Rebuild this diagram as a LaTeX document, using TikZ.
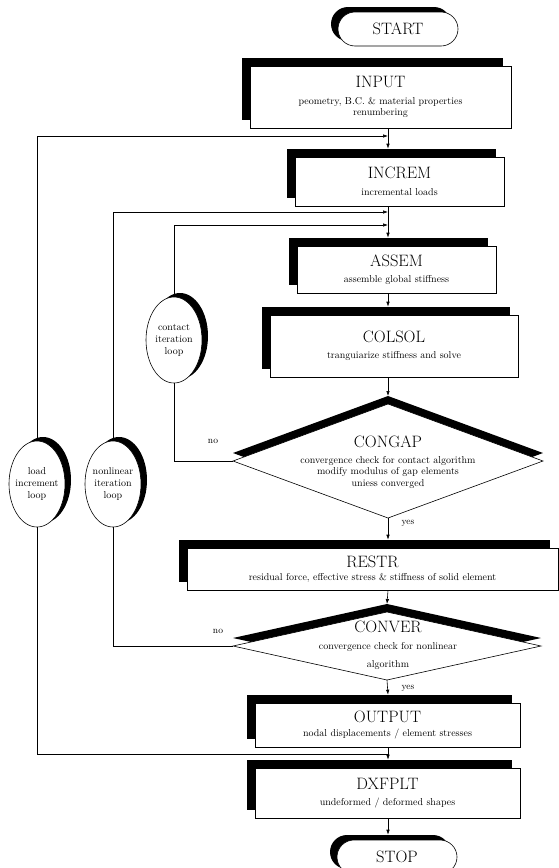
\documentclass[tikz,border=0pt]{standalone}
\usepackage{amsmath}
\usepackage{tikz}
\usetikzlibrary{shapes.geometric,shadows,arrows.meta}

\newcommand{\boxtitle}{\fontsize{16.5}{18}\selectfont}
\newcommand{\boxtext}{\fontsize{10}{11.5}\selectfont}

\tikzset{
	procbox/.style={draw, fill=white, line width=0.6pt, inner sep=0pt, align=center, font=\boxtext,
		drop shadow={shadow xshift=-8pt, shadow yshift=8pt, fill=black, opacity=1}},
	terminal/.style={draw, fill=white, line width=0.6pt, rounded corners=17pt, minimum width=120pt,
		minimum height=34pt, font=\boxtitle,
		drop shadow={shadow xshift=-7pt, shadow yshift=5pt, fill=black, opacity=1}},
	decision/.style={diamond, draw, fill=white, line width=0.6pt, inner sep=0pt, outer sep=0pt,
		drop shadow={shadow xshift=0pt, shadow yshift=8pt, fill=black, opacity=1}},
	loopnode/.style={ellipse, draw, fill=white, line width=0.6pt, inner sep=-5pt, minimum width=56pt,
		minimum height=86pt, align=center, font=\fontsize{10}{12}\selectfont,
		drop shadow={shadow xshift=6pt, shadow yshift=4pt, fill=black, opacity=1}},
	flow/.style={-{Latex[length=5pt,width=3.5pt]}, line width=0.6pt},
	link/.style={line width=0.6pt},
	answer/.style={font=\fontsize{9.5}{11}\selectfont}
}

\begin{document}
\begin{tikzpicture}[x=1pt, y=-1pt]
\useasboundingbox (0,0) rectangle (559,868);
\clip (0,0) rectangle (559,868);

\coordinate (spine) at (388,0);

\node[terminal] (start) at (398,29) {START};
\node[procbox, minimum width=261pt, minimum height=62pt] (input) at (380.5,97)
	{{\boxtitle INPUT}\\[5pt] peometry, B.C. \& material properties\\ renumbering};
\node[procbox, minimum width=209pt, minimum height=49pt] (increm) at (399.5,181.5)
	{{\boxtitle INCREM}\\[5pt] incremental loads};
\node[procbox, minimum width=199pt, minimum height=47pt] (assem) at (396.5,269.5)
	{{\boxtitle ASSEM}\\[5pt] assemble global stiffness};
\node[procbox, minimum width=248pt, minimum height=62pt] (colsol) at (394,346)
	{{\boxtitle COLSOL}\\[5pt] tranguiarize stiffness and solve};

\node[decision, minimum width=310pt, minimum height=114pt] (congap) at (388,461) {};
\node[font=\boxtitle] (congapttl) at (388,442) {CONGAP};
\node[font=\boxtext, align=center] (congaptxt) at (388,472)
	{convergence check for contact algorithm\\ modify modulus of gap elements\\ uniess converged};

\node[procbox, minimum width=371pt, minimum height=42pt] (restr) at (372.5,569)
	{{\boxtitle RESTR}\\[2pt] residual force, effective stress \& stiffness of solid element};

\node[decision, minimum width=308pt, minimum height=68pt] (conver) at (387,646) {};
\node[font=\boxtitle] (converttl) at (388,627) {CONVER};
\node[font=\boxtext, align=center] (convertxt) at (388,656)
	{convergence check for nonlinear\\[7pt] algorithm};

\node[procbox, minimum width=265pt, minimum height=44pt] (output) at (387.5,725)
	{{\boxtitle OUTPUT}\\[3pt] nodal displacements / element stresses};
\node[procbox, minimum width=265pt, minimum height=50pt] (dxfplt) at (387.5,793)
	{{\boxtitle DXFPLT}\\[5pt] undeformed / deformed shapes};
\node[terminal] (stop) at (397,857) {STOP};

\node[loopnode] (contact) at (174,340) {contact\\iteration\\loop};
\node[loopnode] (nonlin) at (113,484) {nonlinear\\iteration\\loop};
\node[loopnode] (loadloop) at (37,484) {load\\increment\\loop};

\node[answer] (congapno) at (213,441) {no};
\node[answer] (congapyes) at (408,523) {yes};
\node[answer] (converno) at (218,631) {no};
\node[answer] (converyes) at (408,688) {yes};

% main line
\draw[flow] (input.south -| spine) -- ([yshift=8pt]increm.north -| spine);
\draw[flow] (increm.south -| spine) -- ([yshift=8pt]assem.north -| spine);
\draw[flow] (assem.south -| spine) -- ([yshift=8pt]colsol.north -| spine);
\draw[flow] (colsol.south -| spine) -- ([yshift=8pt]congap.north);
\draw[flow] (congap.south) -- ([yshift=8pt]restr.north -| spine);
\draw[flow] (restr.south -| spine) -- ([yshift=8pt]conver.north);
\draw[flow] (conver.south) -- ([yshift=8pt]output.north -| spine);
\draw[flow] (output.south -| spine) -- ([yshift=8pt]dxfplt.north -| spine);
\draw[flow] (dxfplt.south -| spine) -- ([yshift=5pt]stop.north -| spine);

% loops
\coordinate (ctin) at (0,225);
\coordinate (nlin) at (0,212);
\coordinate (loadin) at (0,136);
\coordinate (loadout) at (0,754);
\draw[link] (congap.west) -| (contact.south);
\draw[flow] (contact.north) |- (ctin -| spine);
\draw[link] (conver.west) -| (nonlin.south);
\draw[flow] (nonlin.north) |- (nlin -| spine);
\draw[link] (loadout -| spine) -| (loadloop.south);
\draw[flow] (loadloop.north) |- (loadin -| spine);

\end{tikzpicture}
\end{document}
